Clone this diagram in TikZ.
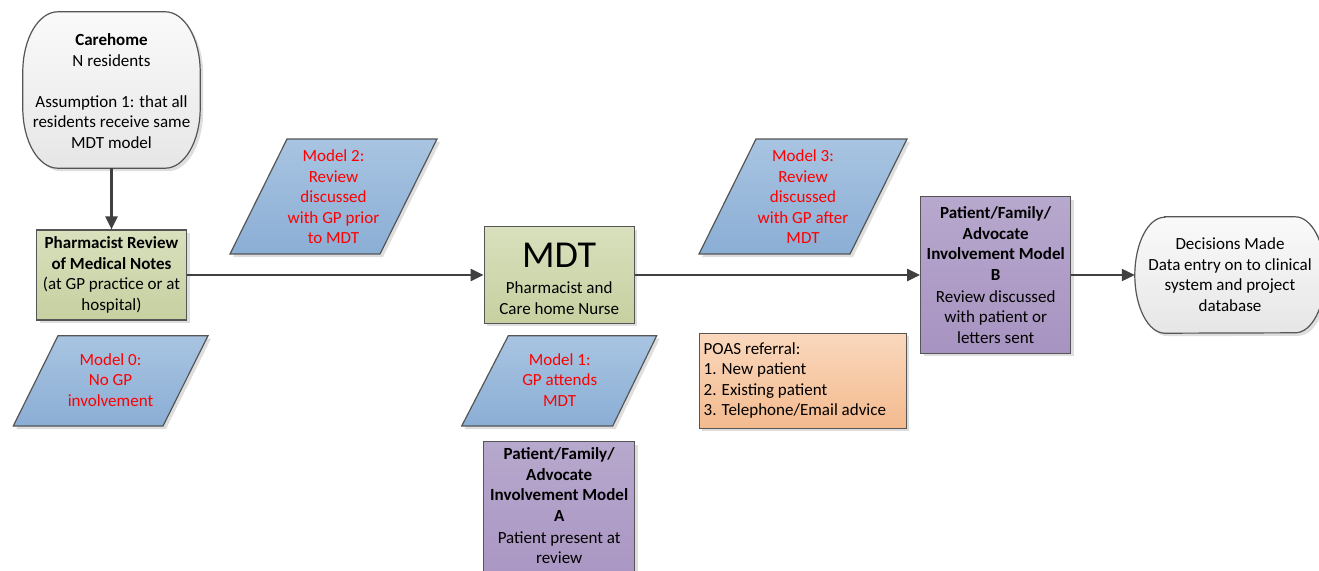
\documentclass[tikz,border=0pt]{standalone}
\usepackage{fontspec}
\setmainfont{Carlito}
\usetikzlibrary{arrows.meta,shadows}
\definecolor{edgec}{HTML}{555555}
\definecolor{arrowc}{HTML}{404040}
\definecolor{gTop}{HTML}{D8E0BD}
\definecolor{gBot}{HTML}{C6D0A0}
\definecolor{bTop}{HTML}{A8C4E1}
\definecolor{bBot}{HTML}{8BAED5}
\definecolor{pTop}{HTML}{B7A8CD}
\definecolor{pBot}{HTML}{A793C1}
\definecolor{oTop}{HTML}{FAD8BD}
\definecolor{oBot}{HTML}{F3BA8E}
\definecolor{wTop}{HTML}{FAFAFA}
\definecolor{wBot}{HTML}{E6E6E6}
\definecolor{redtext}{HTML}{FF0000}
\begin{document}
\begin{tikzpicture}[x=1pt,y=-1pt,
  every node/.style={font=\fontsize{17}{20.5}\selectfont, text=black},
  shad/.style={drop shadow={shadow xshift=3pt, shadow yshift=-3pt, fill=black, opacity=0.13}},
  shapebase/.style={shad, draw=edgec, line width=1.2pt, inner sep=0pt},
  greenbox/.style={shapebase, top color=gTop, bottom color=gBot},
  purplebox/.style={shapebase, top color=pTop, bottom color=pBot},
  orangebox/.style={shapebase, top color=oTop, bottom color=oBot},
  roundpath/.style={shad, draw=edgec, line width=1.2pt, top color=wTop, bottom color=wBot},
  anchorbox/.style={inner sep=0pt},
  para/.style={shad, draw=edgec, line width=1.2pt, top color=bTop, bottom color=bBot},
  txt/.style={align=center, inner sep=0pt},
  redtxt/.style={txt, text=redtext},
  arrow/.style={draw=arrowc, line width=2.2pt, -{Triangle[length=13pt,width=12pt]}}
]
\fill[white] (0,0) rectangle (1319,570);
\useasboundingbox (0,0) rectangle (1319,570);

% Carehome (terminator-like shape with elliptical corners)
\node[anchorbox, minimum width=177pt, minimum height=156pt] (care) at (111.5,90) {};
\draw[roundpath] ([xshift=35pt]care.north west) -- ([xshift=-35pt]care.north east)
  arc[start angle=90, end angle=0, x radius=35pt, y radius=60pt]
  -- ([yshift=60pt]care.south east)
  arc[start angle=0, end angle=-90, x radius=35pt, y radius=60pt]
  -- ([xshift=35pt]care.south west)
  arc[start angle=-90, end angle=-180, x radius=35pt, y radius=60pt]
  -- ([yshift=-60pt]care.north west)
  arc[start angle=180, end angle=90, x radius=35pt, y radius=60pt] -- cycle;
\node[txt] (caretxt) at (111.5,91) {\textbf{Carehome}\\N residents\\[20.5pt]Assumption 1: that all\\residents receive same\\MDT model};

% Pharmacist review
\node[greenbox, minimum width=150pt, minimum height=90pt, align=center] (pharm) at (111.5,275)
  {\textbf{Pharmacist Review}\\\textbf{of Medical Notes}\\(at GP practice or at\\hospital)};

% MDT
\node[greenbox, minimum width=150pt, minimum height=96.5pt] (mdt) at (559.2,275) {};
\node[inner sep=0pt, font=\fontsize{38}{40}\selectfont] (mdttitle) at (559.2,255) {MDT};
\node[txt] (mdttxt) at (559.2,298) {Pharmacist and\\Care home Nurse};

% Model B
\node[purplebox, minimum width=150pt, minimum height=156.6pt, align=center] (mb) at (995.7,275)
  {\textbf{Patient/Family/}\\\textbf{Advocate}\\\textbf{Involvement Model}\\\textbf{B}\\[1.5pt]Review discussed\\with patient or\\letters sent};

% Decisions
\node[anchorbox, minimum width=190pt, minimum height=116pt] (dec) at (1230,275) {};
\draw[roundpath] ([xshift=30pt]dec.north west) -- ([xshift=-30pt]dec.north east)
  arc[start angle=90, end angle=-90, x radius=30pt, y radius=58pt]
  -- ([xshift=30pt]dec.south west)
  arc[start angle=-90, end angle=-270, x radius=30pt, y radius=58pt] -- cycle;
\node[txt] (dectxt) at (1230,274.5) {Decisions Made\\Data entry on to clinical\\system and project\\database};

% Model A
\node[purplebox, minimum width=151pt, minimum height=160pt, anchor=north] (ma) at (559.2,441) {};
\node[txt] (matxt) at (559.2,506) {\textbf{Patient/Family/}\\\textbf{Advocate}\\\textbf{Involvement Model}\\\textbf{A}\\[1.5pt]Patient present at\\review};

% POAS
\node[orangebox, minimum width=207pt, minimum height=95pt] (poas) at (802.7,380.8) {};
\node[align=left, anchor=west, inner sep=0pt] (poastxt) at (703.5,380.5)
  {POAS referral:\\1. New patient\\2. Existing patient\\3. Telephone/Email advice};

% Parallelograms
\draw[para] (287,139) -- (437,139) -- (380,254) -- (230,254) -- cycle;
\node[redtxt] (m2) at (333.5,197) {Model 2:\\Review\\discussed\\with GP prior\\to MDT};

\draw[para] (756,139) -- (907,139) -- (850,254) -- (699,254) -- cycle;
\node[redtxt] (m3) at (803,197) {Model 3:\\Review\\discussed\\with GP after\\MDT};

\draw[para] (58,335.7) -- (208,335.7) -- (163,426) -- (13.3,426) -- cycle;
\node[redtxt] (m0) at (110.5,380) {Model 0:\\No GP\\involvement};

\draw[para] (508.3,335.7) -- (656.7,335.7) -- (612.7,426) -- (461.7,426) -- cycle;
\node[redtxt] (m1) at (559.7,380) {Model 1:\\GP attends\\MDT};

% Connectors
\draw[arrow] (care.south) -- (pharm.north);
\draw[arrow] (pharm.east) -- (mdt.west);
\draw[arrow] (mdt.east) -- (mb.west);
\draw[arrow] (mb.east) -- (dec.west);
\end{tikzpicture}
\end{document}
